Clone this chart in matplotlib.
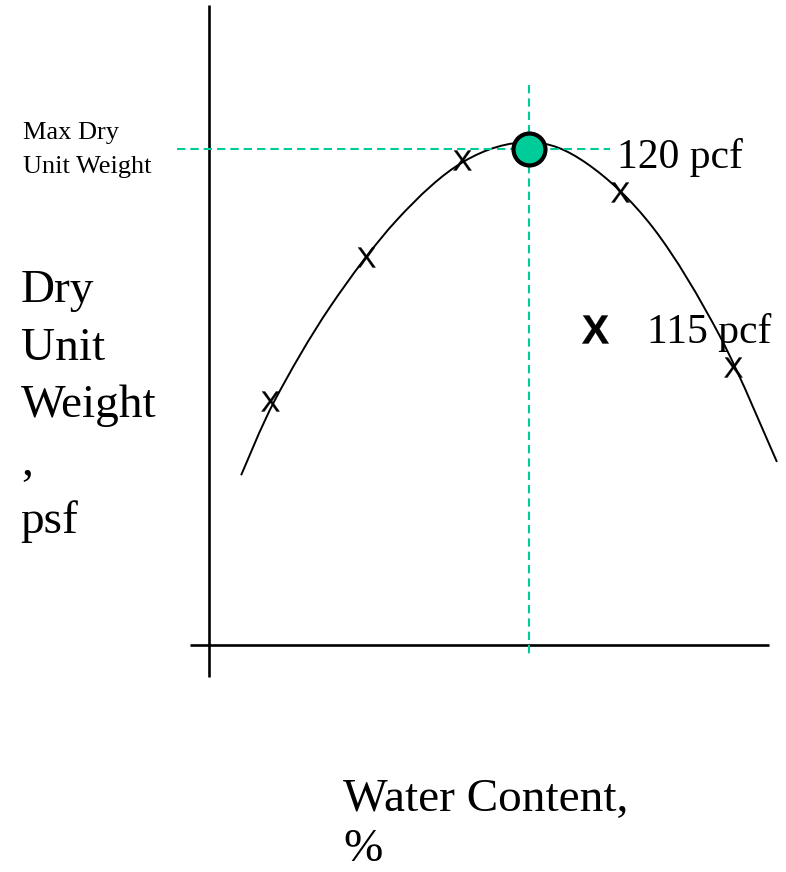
import matplotlib
matplotlib.use("Agg")
import matplotlib.pyplot as plt
import numpy as np
from matplotlib.font_manager import FontProperties
from matplotlib.markers import MarkerStyle
from matplotlib.patches import PathPatch
from matplotlib.path import Path
from matplotlib.textpath import TextPath

# Compaction curve: water content (%) vs dry unit weight (pcf)
curve_w = [1.20, 2.47, 4.54, 7.04, 9.54, 12.0, 14.16, 16.66, 19.16, 21.29]
curve_g = [110.94, 113.03, 115.62, 118.03, 119.65, 120.19, 119.60, 117.80, 114.79, 111.31]

# Lab test points ("X" marks)
test_w = [2.29, 5.88, 9.48, 15.41, 19.66]
test_g = [113.01, 117.01, 119.69, 118.81, 113.94]

# Optimum point and field test
opt_w, max_g = 12.0, 120.0
field_w, field_g = 14.47, 115.0

GREEN = "#00CC99"
SERIF = "Liberation Serif"


def glyph_marker(ch, weight="normal"):
    # centred text glyph used as a marker
    tp = TextPath((0, 0), ch, size=1,
                  prop=FontProperties(family="Liberation Sans", weight=weight))
    bb = tp.get_extents()
    v = tp.vertices.copy()
    v[:, 0] -= (bb.x0 + bb.x1) / 2
    v[:, 1] -= (bb.y0 + bb.y1) / 2
    return MarkerStyle(Path(v, tp.codes))


def smooth_path(xs, ys):
    # Catmull-Rom through the read points, drawn as cubic Bezier segments
    p = np.column_stack([xs, ys])
    ext = np.vstack([p[0], p, p[-1]])
    verts, codes = [p[0]], [Path.MOVETO]
    for i in range(1, len(ext) - 2):
        c1 = ext[i] + (ext[i + 1] - ext[i - 1]) / 6
        c2 = ext[i + 1] - (ext[i + 2] - ext[i]) / 6
        verts += [c1, c2, ext[i + 1]]
        codes += [Path.CURVE4] * 3
    return Path(verts, codes)


def px_text(x, y, s, size, **kw):
    fig.text(x / 786, 1 - y / 872, s, fontsize=size, family=SERIF,
             ha="left", va="baseline", **kw)


fig = plt.figure(figsize=(7.86, 8.72), dpi=100)
ax = fig.add_axes([0, 0, 1, 1])
ax.set_xlim(-7.84, 21.63)
ax.set_ylim(99.92, 124.14)
ax.axis("off")

# hand-drawn axes
ax.plot([0, 0], [124.0, 105.33], color="black", lw=1.9, solid_capstyle="butt")
ax.plot([-0.71, 21.0], [106.23, 106.23], color="black", lw=1.9, solid_capstyle="butt")

# guide lines to the optimum
ax.plot([-1.21, 15.04], [max_g, max_g], color=GREEN, lw=1.5, dashes=(4.0, 2.4))
ax.plot([opt_w, opt_w], [121.78, 105.89], color=GREEN, lw=1.5, dashes=(4.0, 2.4))

ax.add_patch(PathPatch(smooth_path(curve_w, curve_g), fill=False,
                       edgecolor="black", lw=1.4))

ax.plot(test_w, test_g, ls="none", marker=glyph_marker("X"), ms=14.4,
        mfc="black", mec="black", mew=0.2)
ax.plot([field_w], [field_g], ls="none", marker=glyph_marker("X", "bold"), ms=20.2,
        mfc="black", mec="black", mew=0.2)

ax.plot([opt_w], [max_g], ls="none", marker="o", ms=23.0, mfc=GREEN,
        mec="black", mew=3.0, zorder=5)

px_text(22.7, 139.3, "Max Dry", 19)
px_text(22.7, 172.7, "Unit Weight", 19)
px_text(616.7, 168, "120 pcf", 30)
px_text(646.7, 343.3, "115 pcf", 30)

for yb, s in zip([301.7, 360, 416.7, 474.7, 532.7], ["Dry", "Unit", "Weight", ",", "psf"]):
    px_text(20.7, yb, s, 34)

px_text(343, 811, "Water Content,", 34)
px_text(343.3, 861, "%", 34)

fig.savefig("out.png", dpi=100)
